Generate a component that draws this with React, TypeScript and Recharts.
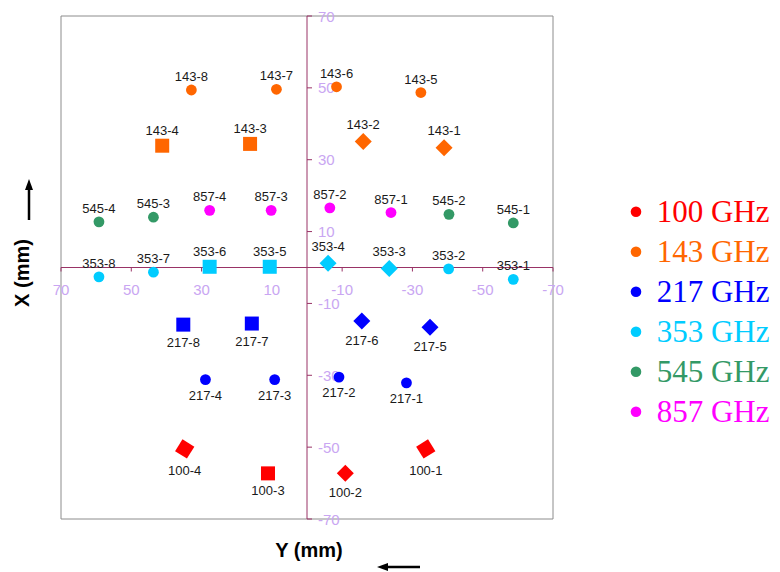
import React from 'react';
import {
  ScatterChart,
  Scatter,
  XAxis,
  YAxis,
  ReferenceLine,
  ReferenceDot,
  ReferenceArea,
  Legend,
} from 'recharts';

type Row = [string, number, number];

// [detector, Y (mm), X (mm)]
const horns100TiltR: Row[] = [['100-1', -33.8, -50.5]];
const horns100TiltL: Row[] = [['100-4', 34.8, -50.5]];
const horns100Diamond: Row[] = [['100-2', -10.9, -57.3]];
const horns100Square: Row[] = [['100-3', 11.1, -57.3]];

const horns143Round: Row[] = [
  ['143-5', -32.4, 48.7],
  ['143-6', -8.4, 50.3],
  ['143-7', 8.7, 49.6],
  ['143-8', 32.9, 49.4],
];
const horns143Square: Row[] = [
  ['143-3', 16.2, 34.4],
  ['143-4', 41.2, 33.9],
];
const horns143Diamond: Row[] = [
  ['143-1', -39.0, 33.3],
  ['143-2', -16.0, 35.1],
];

const horns217Round: Row[] = [
  ['217-1', -28.3, -32.1],
  ['217-2', -9.1, -30.5],
  ['217-3', 9.2, -31.2],
  ['217-4', 28.9, -31.2],
];
const horns217Diamond: Row[] = [
  ['217-5', -35.0, -16.6],
  ['217-6', -15.6, -14.9],
];
const horns217Square: Row[] = [
  ['217-7', 15.7, -15.6],
  ['217-8', 35.2, -15.9],
];

const horns353Round: Row[] = [
  ['353-1', -58.7, -3.3],
  ['353-2', -40.3, -0.4],
  ['353-7', 43.7, -1.3],
  ['353-8', 59.2, -2.6],
];
const horns353Diamond: Row[] = [
  ['353-3', -23.4, -0.3],
  ['353-4', -6.0, 1.2],
];
const horns353Square: Row[] = [
  ['353-5', 10.6, 0.2],
  ['353-6', 27.7, 0.2],
];

const horns545: Row[] = [
  ['545-1', -58.7, 12.4],
  ['545-2', -40.4, 14.8],
  ['545-3', 43.7, 14.0],
  ['545-4', 59.2, 12.7],
];
const horns857: Row[] = [
  ['857-1', -23.9, 15.3],
  ['857-2', -6.5, 16.6],
  ['857-3', 10.2, 15.9],
  ['857-4', 27.7, 15.9],
];

const bands = ['100 GHz', '143 GHz', '217 GHz', '353 GHz', '545 GHz', '857 GHz'];
const BAND_COLORS = ['#ff0000', '#ff6600', '#0000ff', '#00ccff', '#339966', '#ff00ff'];

const yTicks = [70, 50, 30, 10, -10, -30, -50, -70];
const xTicks = [70, 50, 30, 10, -10, -30, -50, -70];

const AXIS = '#993366';
const TICK_TEXT = '#c9a6f2';
const SANS = '"Liberation Sans", Arial, sans-serif';

const toPoints = (rows: Row[]) => rows.map(([name, y, x]) => ({ name, y, x }));

type Kind = 'round' | 'square' | 'diamond' | 'tiltR' | 'tiltL';

const HALF: Record<Kind, number> = { round: 5, square: 7, diamond: 8.5, tiltR: 11, tiltL: 11 };

const hornShape = (kind: Kind, color: string, below: boolean) => (props: any) => {
  const { cx, cy, payload } = props;
  let mark;
  if (kind === 'round') {
    mark = <circle cx={cx} cy={cy} r={5.4} fill={color} />;
  } else if (kind === 'square') {
    mark = <rect x={cx - 7} y={cy - 7} width={14} height={14} fill={color} />;
  } else if (kind === 'diamond') {
    const d = 8.5;
    mark = (
      <polygon
        points={`${cx},${cy - d} ${cx + d},${cy} ${cx},${cy + d} ${cx - d},${cy}`}
        fill={color}
      />
    );
  } else {
    const angle = kind === 'tiltR' ? -32 : 32;
    mark = (
      <rect
        x={cx - 7}
        y={cy - 7}
        width={14}
        height={14}
        fill={color}
        transform={`rotate(${angle} ${cx} ${cy})`}
      />
    );
  }
  const h = HALF[kind];
  return (
    <g>
      {mark}
      <text
        x={cx}
        y={below ? cy + h + 15 : cy - h - 4}
        textAnchor="middle"
        fontSize={13}
        fontFamily={SANS}
        fill="#1a1a1a"
      >
        {payload.name}
      </text>
    </g>
  );
};

const SERIES: { rows: Row[]; band: number; kind: Kind; below: boolean }[] = [
  { rows: horns100TiltR, band: 0, kind: 'tiltR', below: true },
  { rows: horns100TiltL, band: 0, kind: 'tiltL', below: true },
  { rows: horns100Diamond, band: 0, kind: 'diamond', below: true },
  { rows: horns100Square, band: 0, kind: 'square', below: true },
  { rows: horns143Round, band: 1, kind: 'round', below: false },
  { rows: horns143Square, band: 1, kind: 'square', below: false },
  { rows: horns143Diamond, band: 1, kind: 'diamond', below: false },
  { rows: horns217Round, band: 2, kind: 'round', below: true },
  { rows: horns217Diamond, band: 2, kind: 'diamond', below: true },
  { rows: horns217Square, band: 2, kind: 'square', below: true },
  { rows: horns353Round, band: 3, kind: 'round', below: false },
  { rows: horns353Diamond, band: 3, kind: 'diamond', below: false },
  { rows: horns353Square, band: 3, kind: 'square', below: false },
  { rows: horns545, band: 4, kind: 'round', below: false },
  { rows: horns857, band: 5, kind: 'round', below: false },
];

const BandLegend = () => (
  <svg width={150} height={250}>
    {bands.map((b, i) => (
      <g key={b}>
        <circle cx={8} cy={23.7 + i * 40} r={5.3} fill={BAND_COLORS[i]} />
        <text
          x={28.7}
          y={33.7 + i * 40}
          fontSize={31}
          fontFamily='"Liberation Serif", "Times New Roman", serif'
          fill={BAND_COLORS[i]}
        >
          {b}
        </text>
      </g>
    ))}
  </svg>
);

export default function App() {
  return (
    <div style={{ position: 'relative', width: 780, height: 572, overflow: 'hidden' }}>
      <style>{'body{margin:0}'}</style>
      <ScatterChart width={780} height={572} margin={{ top: 16, left: 61, right: 227, bottom: 53 }}>
        <XAxis type="number" dataKey="y" domain={[-70, 70]} reversed hide allowDataOverflow />
        <YAxis type="number" dataKey="x" domain={[-70, 70]} hide allowDataOverflow />
        <ReferenceArea
          x1={-70}
          x2={70}
          y1={-70}
          y2={70}
          fill="none"
          fillOpacity={0}
          stroke="#8c8c8c"
          strokeWidth={1}
        />
        <ReferenceLine y={0} stroke={AXIS} strokeWidth={1} />
        <ReferenceLine x={0} stroke={AXIS} strokeWidth={1} />
        {yTicks.map((v) => (
          <ReferenceDot
            key={`h${v}`}
            x={v}
            y={0}
            ifOverflow="visible"
            shape={(p: any) => (
              <g>
                <line x1={p.cx} y1={p.cy} x2={p.cx} y2={p.cy + 4} stroke={AXIS} />
                <text
                  x={p.cx}
                  y={p.cy + 27}
                  textAnchor="middle"
                  fontSize={15}
                  fontFamily={SANS}
                  fill={TICK_TEXT}
                >
                  {v}
                </text>
              </g>
            )}
          />
        ))}
        {xTicks.map((v) => (
          <ReferenceDot
            key={`v${v}`}
            x={0}
            y={v}
            ifOverflow="visible"
            shape={(p: any) => (
              <g>
                <line x1={p.cx} y1={p.cy} x2={p.cx + 5} y2={p.cy} stroke={AXIS} />
                <text
                  x={p.cx + 11}
                  y={p.cy + 5.5}
                  textAnchor="start"
                  fontSize={15}
                  fontFamily={SANS}
                  fill={TICK_TEXT}
                >
                  {v}
                </text>
              </g>
            )}
          />
        ))}
        {SERIES.map((s, i) => (
          <Scatter
            key={i}
            name={bands[s.band]}
            data={toPoints(s.rows)}
            fill={BAND_COLORS[s.band]}
            shape={hornShape(s.kind, BAND_COLORS[s.band], s.below)}
            isAnimationActive={false}
          />
        ))}
        <Legend
          layout="horizontal"
          verticalAlign="middle"
          align="center"
          wrapperStyle={{ left: 628, top: 188, width: 150, height: 250 }}
          content={() => <BandLegend />}
        />
      </ScatterChart>
      <svg
        width={780}
        height={572}
        style={{ position: 'absolute', left: 0, top: 0, pointerEvents: 'none' }}
      >
        <text
          transform="translate(29 273) rotate(-90)"
          textAnchor="middle"
          fontSize={20}
          fontWeight="bold"
          fontFamily={SANS}
          fill="#000"
        >
          X (mm)
        </text>
        <line x1={29} y1={188} x2={29} y2={220} stroke="#000" strokeWidth={2.5} />
        <polygon points="29,179 25,190 33,190" fill="#000" />
        <text
          x={309}
          y={557}
          textAnchor="middle"
          fontSize={20}
          fontWeight="bold"
          fontFamily={SANS}
          fill="#000"
        >
          Y (mm)
        </text>
        <line x1={387} y1={567} x2={420} y2={567} stroke="#000" strokeWidth={2.5} />
        <polygon points="377,567 388,563 388,571" fill="#000" />
      </svg>
    </div>
  );
}
